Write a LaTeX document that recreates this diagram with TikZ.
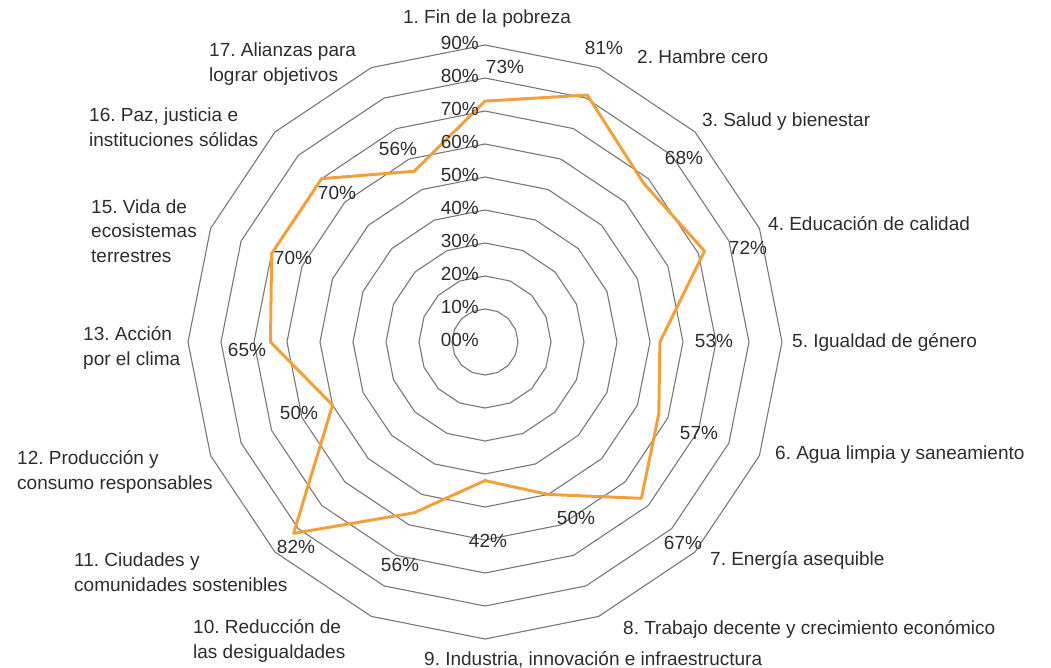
\documentclass[tikz,border=0pt]{standalone}
\usepackage{fontspec}
\setmainfont{Liberation Sans}
\frenchspacing
\definecolor{txt}{RGB}{45,45,45}
\definecolor{gridc}{RGB}{120,120,120}
\definecolor{orangec}{RGB}{242,160,62}
\begin{document}
\begin{tikzpicture}[x=1pt,y=1pt,
  ring/.style={draw=gridc, line width=1.1pt},
  series/.style={draw=orangec, line width=3pt, line join=round},
  lbl/.style={text=txt, font=\fontsize{19}{24.5}\selectfont\frenchspacing, inner sep=0pt},
  cat/.style={lbl, align=left, anchor=west},
  tick/.style={lbl, anchor=east},
  val/.style={lbl, anchor=center}]
\useasboundingbox (0,0) rectangle (1051,-668);
\begin{scope}[shift={(485,-342)}]
  % grid rings 10% .. 90%
  \foreach \k in {1,...,9} {
    \draw[ring] (90:{33*\k}) \foreach \i in {1,...,15} { -- ({90-22.5*\i}:{33*\k}) } -- cycle;
  }
  % data series
  \draw[series] (90:240.9) -- (67.5:267.3) -- (45:224.4) -- (22.5:237.6) -- (0:174.9)
    -- (-22.5:188.1) -- (-45:221.1) -- (-67.5:165) -- (-90:138.6) -- (-112.5:184.8)
    -- (-135:270.6) -- (-157.5:165) -- (-180:214.5) -- (-202.5:231) -- (-225:231)
    -- (-247.5:184.8) -- cycle;
\end{scope}
% tick labels
\foreach \k/\t in {0/00,1/10,2/20,3/30,4/40,5/50,6/60,7/70,8/80,9/90} {
  \node[tick] (tick\k) at (479,{-(342-33*\k)+2}) {\t\%};
}
% category labels
\node[lbl] (c1) at (487,-19) {1. Fin de la pobreza};
\node[cat] (c2) at (637,-57) {2. Hambre cero};
\node[cat] (c3) at (702,-122) {3. Salud y bienestar};
\node[cat] (c4) at (768,-224) {4. Educación de calidad};
\node[cat] (c5) at (792,-342) {5. Igualdad de género};
\node[cat] (c6) at (775,-455) {6. Agua limpia y saneamiento};
\node[cat] (c7) at (710,-560) {7. Energía asequible};
\node[cat] (c8) at (623,-629) {8. Trabajo decente y crecimiento económico};
\node[cat] (c9) at (424,-660) {9. Industria, innovación e infraestructura};
\node[cat] (c10) at (193,-641) {10. Reducción de\\las desigualdades};
\node[cat] (c11) at (74,-572) {11. Ciudades y\\comunidades sostenibles};
\node[cat] (c12) at (17,-472) {12. Producción y\\consumo responsables};
\node[cat] (c13) at (83,-348) {13. Acción\\por el clima};
\node[cat] (c15) at (91,-231) {15. Vida de\\ecosistemas\\terrestres};
\node[cat] (c16) at (89,-127) {16. Paz, justicia e\\instituciones sólidas};
\node[cat] (c17) at (209,-64) {17. Alianzas para\\lograr objetivos};
% value labels
\node[val] (v1) at (505,-67) {73\%};
\node[val] (v2) at (604,-48) {81\%};
\node[val] (v3) at (684,-158) {68\%};
\node[val] (v4) at (748,-248) {72\%};
\node[val] (v5) at (714,-341) {53\%};
\node[val] (v6) at (699,-433) {57\%};
\node[val] (v7) at (683,-543) {67\%};
\node[val] (v8) at (576,-518) {50\%};
\node[val] (v9) at (488,-541) {42\%};
\node[val] (v10) at (400,-565) {56\%};
\node[val] (v11) at (296,-547) {82\%};
\node[val] (v12) at (299,-413) {50\%};
\node[val] (v13) at (247,-350) {65\%};
\node[val] (v15) at (293,-258) {70\%};
\node[val] (v16) at (337,-193) {70\%};
\node[val] (v17) at (398,-149) {56\%};
\end{tikzpicture}
\end{document}
